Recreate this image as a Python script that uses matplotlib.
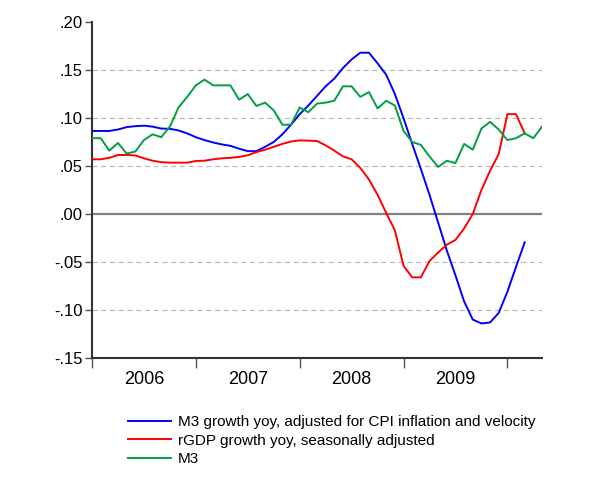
import matplotlib
matplotlib.use("Agg")
import matplotlib.pyplot as plt
from matplotlib.ticker import FixedLocator, FuncFormatter, NullFormatter

plt.rcParams['font.family'] = ['Liberation Sans', 'DejaVu Sans']

# monthly observations, 2006M01 .. 2010M05
m3_adj = [0.0865, 0.0865, 0.0865, 0.088, 0.0905, 0.0915, 0.092, 0.091, 0.089, 0.0887,
          0.087, 0.084, 0.080, 0.077, 0.0745, 0.0725, 0.071, 0.068, 0.0655, 0.0655,
          0.070, 0.075, 0.083, 0.093, 0.104, 0.113, 0.123, 0.133, 0.141, 0.152,
          0.161, 0.168, 0.168, 0.157, 0.145, 0.125, 0.0997, 0.073, 0.047, 0.020,
          -0.009, -0.038, -0.064, -0.091, -0.110, -0.114, -0.113, -0.103, -0.081, -0.055,
          -0.0295]
rgdp = [0.057, 0.057, 0.0585, 0.0615, 0.0615, 0.061, 0.058, 0.0555, 0.054, 0.0535,
        0.0535, 0.0535, 0.0552, 0.0555, 0.057, 0.058, 0.0585, 0.0595, 0.0612, 0.0645,
        0.067, 0.070, 0.073, 0.0755, 0.0767, 0.0764, 0.076, 0.0715, 0.066, 0.060,
        0.057, 0.048, 0.036, 0.020, 0.001, -0.017, -0.054, -0.066, -0.066, -0.049,
        -0.040, -0.032, -0.027, -0.015, 0.000, 0.025, 0.045, 0.0625, 0.104, 0.104,
        0.084]
m3 = [0.079, 0.079, 0.066, 0.074, 0.063, 0.065, 0.077, 0.083, 0.080, 0.091,
      0.111, 0.122, 0.134, 0.140, 0.134, 0.134, 0.134, 0.119, 0.125, 0.1125,
      0.116, 0.108, 0.093, 0.093, 0.111, 0.106, 0.115, 0.116, 0.118, 0.133,
      0.133, 0.122, 0.127, 0.110, 0.118, 0.113, 0.0865, 0.075, 0.072, 0.060,
      0.049, 0.0555, 0.053, 0.073, 0.067, 0.089, 0.096, 0.088, 0.077, 0.079,
      0.084, 0.079, 0.091]
years = ["2006", "2007", "2008", "2009"]
yticks = [-0.15, -0.10, -0.05, 0.00, 0.05, 0.10, 0.15, 0.20]
labels = ["M3 growth yoy, adjusted for CPI inflation and velocity",
          "rGDP growth yoy, seasonally adjusted",
          "M3"]

fig = plt.figure(figsize=(6.14, 4.8), dpi=100)
ax = fig.add_axes([92/614, 1-358/480, 450/614, 336/480])

for v in yticks:
    if v == 0:
        ax.axhline(v, color='#808080', lw=1.6, zorder=1)
    elif abs(v) < 0.19 and v > -0.14:
        ax.axhline(v, color='#BBBBBB', lw=0.9, ls=(0, (4, 3)), zorder=1)

l1, = ax.plot(range(len(m3_adj)), m3_adj, color='#0000FF', lw=1.4, zorder=3)
l2, = ax.plot(range(len(rgdp)), rgdp, color='#FF0000', lw=1.4, zorder=3)
l3, = ax.plot(range(len(m3)), m3, color='#00A040', lw=1.4, zorder=3)

ax.set_xlim(0, len(m3) - 1)
ax.set_ylim(-0.15, 0.20)

ax.spines['top'].set_visible(False)
ax.spines['right'].set_visible(False)
for s in ('left', 'bottom'):
    ax.spines[s].set_linewidth(1.5)
    ax.spines[s].set_color('#333333')

ax.set_yticks(yticks)
ax.yaxis.set_major_formatter(FuncFormatter(
    lambda v, p: ("-" if v < -1e-9 else "") + ("%.2f" % abs(v))[1:]))
ax.tick_params(axis='y', length=5, width=1, color='#555555', pad=2, labelsize=12)

ax.xaxis.set_major_locator(FixedLocator([0, 12, 24, 36, 48]))
ax.xaxis.set_major_formatter(NullFormatter())
ax.xaxis.set_minor_locator(FixedLocator([6 + 12 * i for i in range(len(years))]))
ax.xaxis.set_minor_formatter(FuncFormatter(lambda v, p: years[int((v - 6) // 12)]))
ax.tick_params(axis='x', which='major', length=7, width=1, color='#555555')
ax.tick_params(axis='x', which='minor', length=0, pad=9, labelsize=13)

fig.legend([l1, l2, l3], labels, loc='upper left',
           bbox_to_anchor=(128/614, 1-415/480), frameon=False, fontsize=11,
           handlelength=2.8, handletextpad=0.45, labelspacing=0.3,
           borderpad=0, borderaxespad=0)

fig.savefig("out.png", dpi=100)
